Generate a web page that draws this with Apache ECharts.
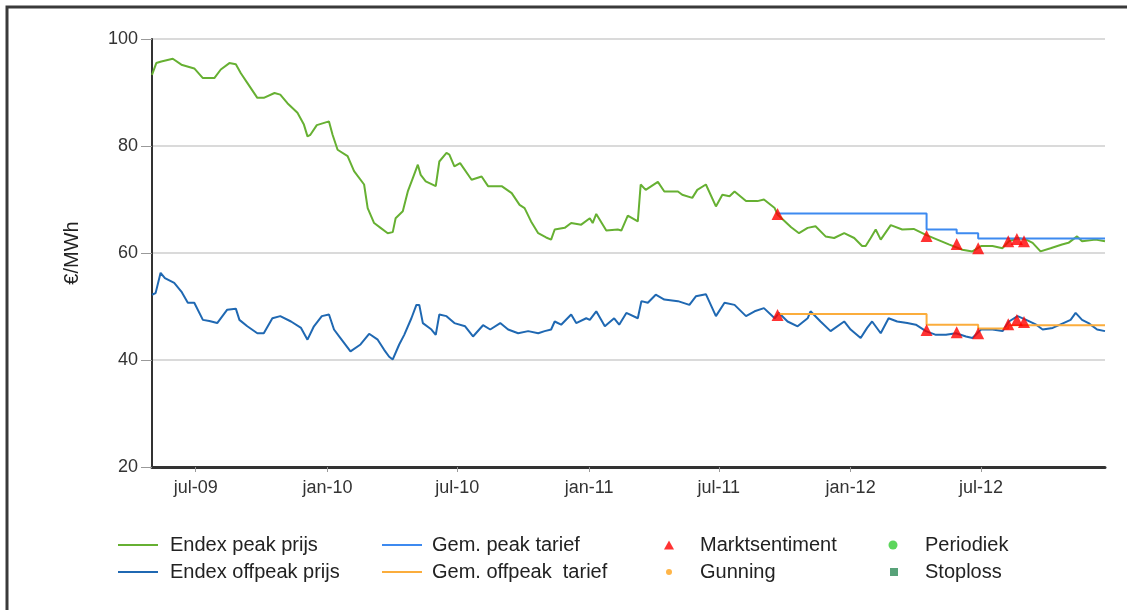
<!DOCTYPE html>
<html>
<head>
<meta charset="utf-8">
<script src="https://cdn.jsdelivr.net/npm/echarts@6/dist/echarts.min.js"></script>
<style>
  html, body { margin: 0; background: #fff; }
  #main { width: 1127px; height: 610px; }
</style>
</head>
<body>
<div id="main"></div>
<script>
// Endex peak prijs
const peakDates = ['2009-05-01','2009-05-07','2009-05-14','2009-05-30','2009-06-11','2009-06-29','2009-07-11','2009-07-27','2009-08-05','2009-08-17',
  '2009-08-26','2009-09-02','2009-09-11','2009-09-25','2009-10-04','2009-10-19','2009-10-27','2009-11-06','2009-11-20','2009-11-29',
  '2009-12-04','2009-12-08','2009-12-17','2010-01-03','2010-01-08','2010-01-15','2010-01-29','2010-02-07','2010-02-21','2010-02-26',
  '2010-03-07','2010-03-16','2010-03-26','2010-04-02','2010-04-06','2010-04-16','2010-04-23','2010-04-30','2010-05-07','2010-05-11',
  '2010-05-18','2010-06-01','2010-06-06','2010-06-16','2010-06-20','2010-06-27','2010-07-05','2010-07-21','2010-08-04','2010-08-13',
  '2010-09-01','2010-09-15','2010-09-26','2010-10-03','2010-10-12','2010-10-22','2010-11-02','2010-11-09','2010-11-14','2010-11-28',
  '2010-12-07','2010-12-21','2011-01-02','2011-01-06','2011-01-11','2011-01-25','2011-02-10','2011-02-15','2011-02-24','2011-03-10',
  '2011-03-14','2011-03-21','2011-04-07','2011-04-16','2011-05-05','2011-05-11','2011-05-25','2011-06-01','2011-06-13','2011-06-27',
  '2011-07-06','2011-07-16','2011-07-23','2011-08-08','2011-08-24','2011-09-02','2011-09-17','2011-09-21','2011-10-10','2011-10-21',
  '2011-11-02','2011-11-13','2011-11-27','2011-12-09','2011-12-23','2012-01-06','2012-01-17','2012-01-22','2012-01-29','2012-02-05',
  '2012-02-12','2012-02-26','2012-03-13','2012-03-29','2012-04-15','2012-05-01','2012-05-17','2012-06-05','2012-06-19','2012-07-01',
  '2012-07-17','2012-07-31','2012-08-09','2012-08-21','2012-09-02','2012-09-11','2012-09-22','2012-10-06','2012-10-22','2012-10-31',
  '2012-11-12','2012-11-19','2012-12-08','2012-12-21'];
const peakPrices = [93.3,95.5,95.8,96.3,95.2,94.5,92.7,92.7,94.3,95.5,
  95.3,93.6,91.8,89.0,89.0,89.9,89.6,88.0,86.2,84.0,
  81.8,82.1,83.9,84.6,82.1,79.3,78.1,75.3,72.8,68.4,
  65.6,64.7,63.7,63.9,66.5,67.8,71.5,74.0,76.5,74.6,
  73.4,72.5,77.1,78.7,78.4,76.2,76.8,73.7,74.3,72.5,
  72.5,71.2,69.0,68.4,65.9,63.7,62.9,62.5,64.4,64.7,
  65.6,65.3,66.5,65.6,67.3,64.2,64.4,64.2,67.0,65.9,
  72.8,71.8,73.3,71.5,71.5,70.9,70.3,71.8,72.8,68.7,
  70.9,70.6,71.5,69.7,69.7,70.0,68.4,67.2,64.8,63.7,
  64.7,65.0,63.1,62.8,63.7,62.8,61.3,61.3,62.8,64.4,
  62.5,65.2,64.4,64.5,63.4,62.5,61.6,60.6,60.3,61.3,
  61.3,60.9,62.2,62.8,62.5,61.9,60.3,60.9,61.6,61.9,
  63.1,62.2,62.5,62.2];

// Endex offpeak prijs
const offpeakDates = ['2009-05-01','2009-05-06','2009-05-13','2009-05-19','2009-06-01','2009-06-11','2009-06-20','2009-06-29','2009-07-11','2009-07-20',
  '2009-07-31','2009-08-14','2009-08-26','2009-08-31','2009-09-11','2009-09-25','2009-10-04','2009-10-16','2009-10-27','2009-11-11',
  '2009-11-25','2009-12-04','2009-12-13','2009-12-24','2010-01-03','2010-01-10','2010-01-19','2010-02-02','2010-02-16','2010-02-28',
  '2010-03-12','2010-03-21','2010-03-28','2010-04-02','2010-04-11','2010-04-18','2010-04-28','2010-05-05','2010-05-09','2010-05-14',
  '2010-05-26','2010-06-01','2010-06-06','2010-06-16','2010-06-27','2010-07-12','2010-07-23','2010-08-06','2010-08-16','2010-08-30',
  '2010-09-10','2010-09-24','2010-10-08','2010-10-22','2010-10-31','2010-11-09','2010-11-14','2010-11-23','2010-12-07','2010-12-14',
  '2010-12-28','2011-01-02','2011-01-11','2011-01-23','2011-02-05','2011-02-12','2011-02-22','2011-03-10','2011-03-15','2011-03-24',
  '2011-04-04','2011-04-16','2011-05-05','2011-05-21','2011-05-30','2011-06-13','2011-06-27','2011-07-09','2011-07-23','2011-08-08',
  '2011-08-20','2011-09-02','2011-09-17','2011-09-23','2011-10-05','2011-10-19','2011-11-02','2011-11-06','2011-11-20','2011-12-04',
  '2011-12-23','2012-01-01','2012-01-15','2012-01-24','2012-01-31','2012-02-12','2012-02-23','2012-03-06','2012-03-20','2012-04-01',
  '2012-04-15','2012-04-29','2012-05-13','2012-05-27','2012-06-10','2012-06-19','2012-07-01','2012-07-17','2012-07-31','2012-08-09',
  '2012-08-21','2012-09-02','2012-09-16','2012-09-25','2012-10-09','2012-10-24','2012-11-03','2012-11-10','2012-11-19','2012-11-28',
  '2012-12-10','2012-12-21'];
const offpeakPrices = [52.2,52.5,56.3,55.3,54.4,52.8,50.7,50.7,47.5,47.3,
  46.9,49.4,49.6,47.5,46.3,45.0,45.0,47.8,48.2,47.2,
  46.0,43.8,46.3,48.2,48.5,45.7,44.1,41.6,42.9,44.9,
  43.8,41.9,40.6,40.1,42.9,44.7,47.8,50.3,50.3,46.9,
  45.7,44.7,48.5,48.2,46.9,46.3,44.4,46.5,45.7,46.9,
  45.7,45.0,45.4,45.0,45.4,45.7,47.2,46.6,48.5,46.9,
  47.8,47.5,49.1,46.3,47.8,46.6,48.8,47.8,51.0,50.7,
  52.2,51.3,51.0,50.3,51.9,52.3,48.2,50.7,50.3,48.2,
  49.1,49.7,47.8,48.8,47.2,46.3,47.8,49.1,47.2,45.4,
  47.2,45.7,44.1,46.0,47.2,45.0,47.8,47.2,46.9,46.6,
  45.4,44.7,44.7,45.0,44.4,44.1,45.7,45.7,45.4,47.2,
  48.2,47.5,46.6,45.7,46.0,46.9,47.5,48.8,47.5,46.9,
  45.7,45.4];

// Gem. peak / offpeak tarief (waarde geldt tot de volgende datum)
const peakTariffDates = ['2011-09-21','2012-04-16','2012-05-28','2012-06-27','2012-12-21'];
const peakTariff = [67.4, 64.4, 63.7, 62.7, 62.7];
const offpeakTariffDates = ['2011-09-21','2012-04-16','2012-06-27','2012-08-08','2012-12-21'];
const offpeakTariff = [48.6, 46.6, 45.9, 46.5, 46.5];

// Marktsentiment aankopen
const marketDates = ['2011-09-21','2012-04-16','2012-05-28','2012-06-27','2012-08-08','2012-08-20','2012-08-30'];
const marketPeak = [67.3, 63.2, 61.7, 60.9, 62.2, 62.6, 62.2];
const marketOffpeak = [48.4, 45.6, 45.2, 45.0, 46.7, 47.5, 47.1];

// x-as
const tickDates = ['2009-07-01','2010-01-01','2010-07-01','2011-01-01','2011-07-01','2012-01-01','2012-07-01'];
const tickLabels = ['jul-09','jan-10','jul-10','jan-11','jul-11','jan-12','jul-12'];

const FONT = '"Liberation Sans", Arial, sans-serif';

function parseDay(s) {
  const p = s.split('-');
  return new Date(+p[0], +p[1] - 1, +p[2]).getTime();
}
function pairs(dates, values) {
  return dates.map(function (d, i) { return [parseDay(d), values[i]]; });
}
const tickValues = tickDates.map(parseDay);

// legenda: één component per item, icoon gecentreerd op cx, tekst begint op textX
function legendItem(name, cx, top, w, h, icon, textX) {
  const left = cx - w / 2;
  return {
    data: [{ name: name, icon: icon }],
    left: left,
    top: top,
    padding: 0,
    itemWidth: w,
    itemHeight: h,
    selectedMode: false,
    textStyle: {
      fontSize: 20, color: '#222', fontFamily: FONT, lineHeight: 20,
      padding: [0, 0, 0, textX - (left + w + 5)]
    }
  };
}

const chart = echarts.init(document.getElementById('main'));

const option = {
  animation: false,
  backgroundColor: '#fff',
  graphic: [{
    type: 'rect',
    shape: { x: 7, y: 7, width: 1200, height: 700 },
    style: { fill: 'none', stroke: '#3a3a3a', lineWidth: 3 },
    silent: true
  }],
  grid: { left: 152, right: 22, top: 39, bottom: 143 },
  legend: [
    legendItem('Endex peak prijs', 138, 535, 40, 2, 'rect', 170),
    legendItem('Endex offpeak prijs', 138, 562, 40, 2, 'rect', 170),
    legendItem('Gem. peak tarief', 402, 535, 40, 2, 'rect', 432),
    legendItem('Gem. offpeak  tarief', 402, 562, 40, 2, 'rect', 432),
    legendItem('Marktsentiment', 669, 535, 10, 9, 'triangle', 700),
    legendItem('Gunning', 669, 562, 6, 6, 'circle', 700),
    legendItem('Periodiek', 893, 535, 9, 9, 'circle', 925),
    legendItem('Stoploss', 894, 562, 8, 8, 'rect', 925)
  ],
  // tijd als getal (ms) op een value-as, zodat de half-jaar ticks vast kunnen staan
  xAxis: {
    type: 'value',
    min: parseDay('2009-05-01'),
    max: parseDay('2012-12-21'),
    axisLine: { lineStyle: { color: '#333', width: 3 } },
    axisTick: { show: true, length: 5, customValues: tickValues, lineStyle: { color: '#999' } },
    axisLabel: {
      customValues: tickValues,
      fontSize: 18,
      color: '#333',
      fontFamily: FONT,
      margin: 12,
      formatter: function (v) {
        const i = tickValues.indexOf(v);
        return i >= 0 ? tickLabels[i] : '';
      }
    },
    splitLine: { show: false }
  },
  yAxis: {
    type: 'value',
    min: 20,
    max: 100,
    interval: 20,
    name: '€/MWh',
    nameLocation: 'middle',
    nameGap: 70,
    nameTextStyle: { fontSize: 20, color: '#222', fontFamily: FONT },
    axisLine: { show: true, lineStyle: { color: '#333', width: 2 } },
    axisTick: { show: true, length: 11, lineStyle: { color: '#999' } },
    axisLabel: { fontSize: 18, color: '#333', fontFamily: FONT, margin: 14 },
    splitLine: { lineStyle: { color: '#dadada', width: 2 } }
  },
  series: [
    {
      name: 'Endex peak prijs', type: 'line', symbol: 'none',
      data: pairs(peakDates, peakPrices),
      lineStyle: { color: '#66b032', width: 2 }, itemStyle: { color: '#66b032' }
    },
    {
      name: 'Endex offpeak prijs', type: 'line', symbol: 'none',
      data: pairs(offpeakDates, offpeakPrices),
      lineStyle: { color: '#1f68b2', width: 2 }, itemStyle: { color: '#1f68b2' }
    },
    {
      name: 'Gem. peak tarief', type: 'line', symbol: 'none', step: 'end',
      data: pairs(peakTariffDates, peakTariff),
      lineStyle: { color: '#3d8af0', width: 2 }, itemStyle: { color: '#3d8af0' }
    },
    {
      name: 'Gem. offpeak  tarief', type: 'line', symbol: 'none', step: 'end',
      data: pairs(offpeakTariffDates, offpeakTariff),
      lineStyle: { color: '#fbad3c', width: 2 }, itemStyle: { color: '#fbad3c' }
    },
    {
      name: 'Marktsentiment', type: 'scatter', symbol: 'triangle', symbolSize: 12, z: 5,
      data: pairs(marketDates, marketPeak).concat(pairs(marketDates, marketOffpeak)),
      itemStyle: { color: '#ff0000' }
    },
    { name: 'Gunning', type: 'scatter', symbol: 'circle', data: [], itemStyle: { color: '#ffa31a' } },
    { name: 'Periodiek', type: 'scatter', symbol: 'circle', data: [], itemStyle: { color: '#33cc33' } },
    { name: 'Stoploss', type: 'scatter', symbol: 'rect', data: [], itemStyle: { color: '#2e8b57' } }
  ]
};

chart.setOption(option);
</script>
</body>
</html>
